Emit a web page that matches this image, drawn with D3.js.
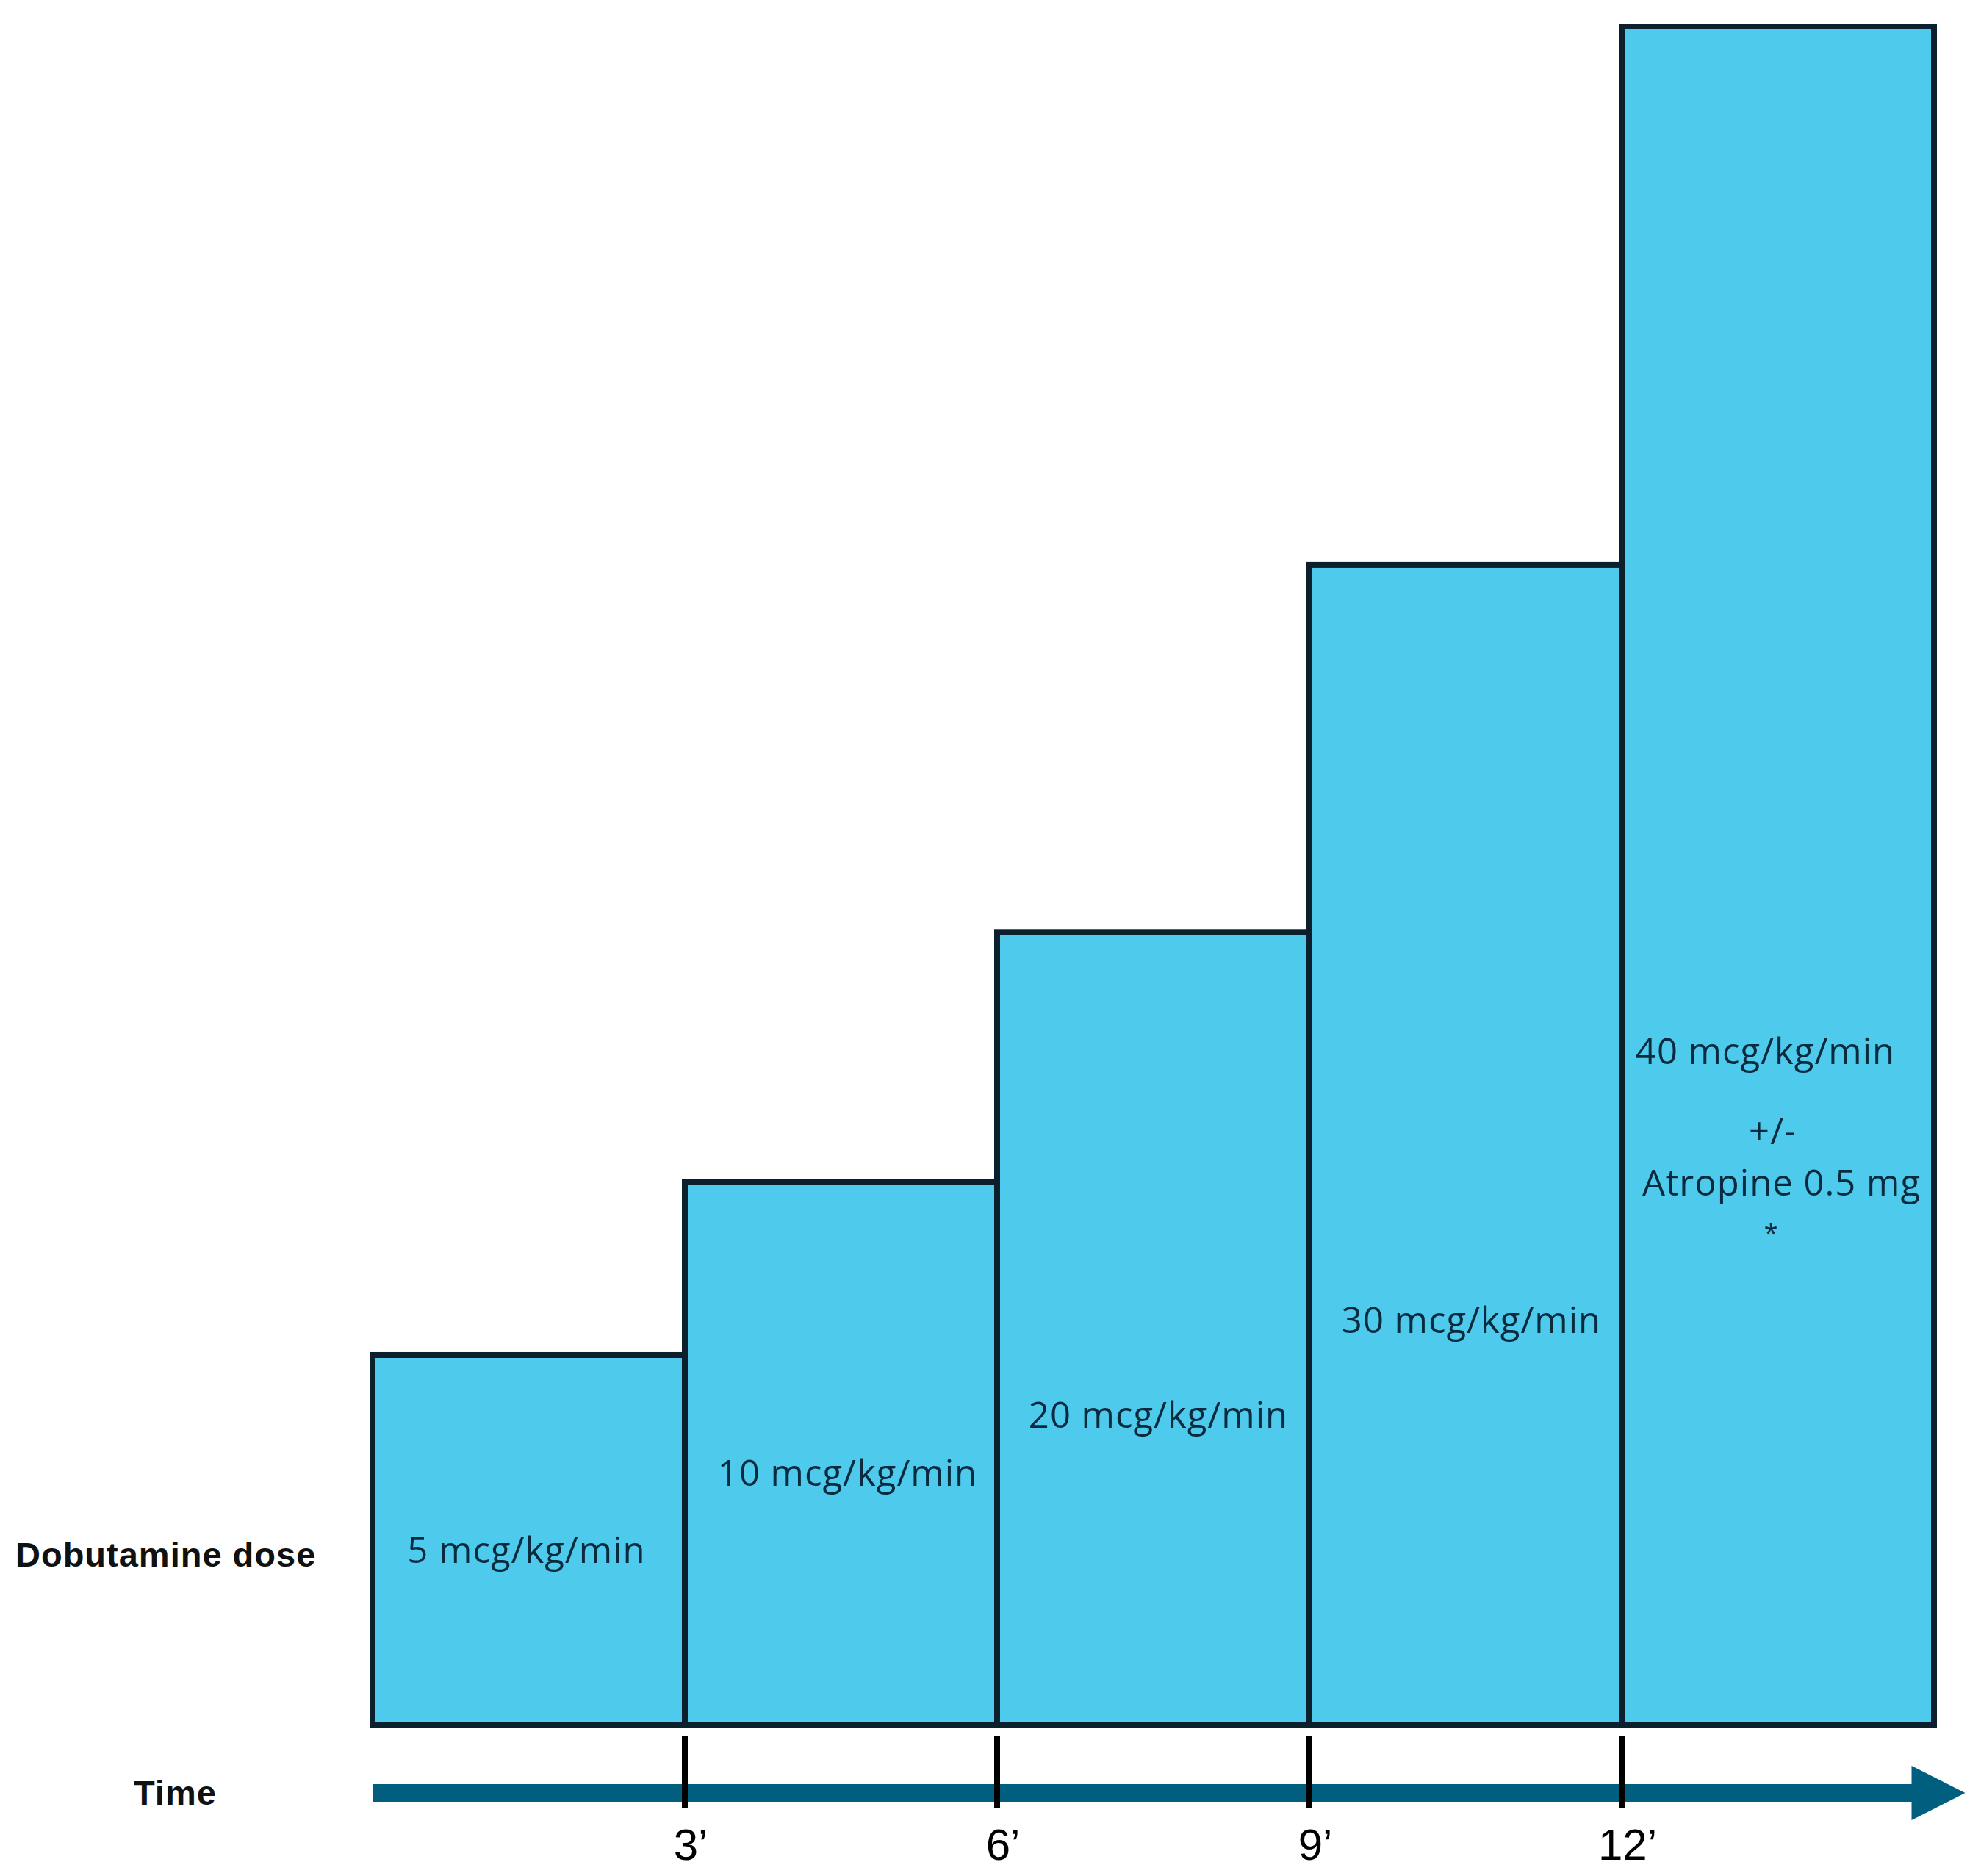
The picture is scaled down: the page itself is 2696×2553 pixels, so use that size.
<!DOCTYPE html>
<html>
<head>
<meta charset="utf-8">
<script src="https://cdn.jsdelivr.net/npm/d3@7"></script>
<style>
  body { margin: 0; background: #fff; }
  svg { display: block; }
</style>
</head>
<body>
<div id="chart"></div>
<script>
// dose steps (arbitrary step height)
const stepStart = [0, 3, 6, 9, 12];
const stepLength = 3;
const stepHeight = [21.8, 32.0, 46.7, 68.3, 100];
const doses = [5, 10, 20, 30, 40];
const doseUnit = 'mcg/kg/min';
const lastStepNote = ['+/-', 'Atropine 0.5 mg', '*'];

// time axis
const tickTimes = [3, 6, 9, 12];
const tickLabels = ['3’', '6’', '9’', '12’'];
const axisEnd = 15.3;

const rowLabels = ['Dobutamine dose', 'Time'];

const W = 2696;
const H = 2553;

const svg = d3.select('#chart').append('svg')
  .attr('width', W)
  .attr('height', H);

svg.append('rect')
  .attr('width', W)
  .attr('height', H)
  .attr('fill', '#fff');

const x = d3.scaleLinear()
  .domain([0, 15])
  .range([507, 2632]);

const y = d3.scaleLinear()
  .domain([0, 100])
  .range([2348, 36]);

const steps = stepStart.map((t, i) => ({
  t,
  h: stepHeight[i],
  dose: doses[i],
}));

// bars
svg.selectAll('.step')
  .data(steps)
  .enter()
  .append('rect')
  .attr('class', 'step')
  .attr('x', d => x(d.t))
  .attr('y', d => y(d.h))
  .attr('width', d => x(d.t + stepLength) - x(d.t))
  .attr('height', d => y(0) - y(d.h))
  .attr('fill', '#4ECBEC')
  .attr('stroke', '#0B1F2C')
  .attr('stroke-width', 8);

// dose labels, placed by hand like in the figure
const labelPos = [
  { dx: -3, y: 2127 },
  { dx: 9, y: 2022 },
  { dx: 7, y: 1943 },
  { dx: 8, y: 1814 },
  { dx: -17, y: 1448 },
];

svg.selectAll('.doselabel')
  .data(steps)
  .enter()
  .append('text')
  .attr('class', 'doselabel')
  .attr('x', (d, i) => x(d.t + stepLength / 2) + labelPos[i].dx)
  .attr('y', (d, i) => labelPos[i].y)
  .attr('text-anchor', 'middle')
  .attr('font-family', '"Open Sans", sans-serif')
  .attr('font-size', 49)
  .attr('letter-spacing', 1)
  .attr('fill', '#0A2A3E')
  .text(d => `${d.dose} ${doseUnit}`);

const notePos = [
  { dx: -7, y: 1557, size: 49 },
  { dx: 5, y: 1627, size: 49 },
  { dx: -9, y: 1690, size: 34 },
];
const last = steps[steps.length - 1];

svg.selectAll('.note')
  .data(lastStepNote)
  .enter()
  .append('text')
  .attr('class', 'note')
  .attr('x', (d, i) => x(last.t + stepLength / 2) + notePos[i].dx)
  .attr('y', (d, i) => notePos[i].y)
  .attr('text-anchor', 'middle')
  .attr('font-family', '"Open Sans", sans-serif')
  .attr('font-size', (d, i) => notePos[i].size)
  .attr('letter-spacing', 1)
  .attr('fill', '#0A2A3E')
  .text(d => d);

// time arrow
const axisY = 2440;
const headLen = 73;
const headHalf = 37;

svg.append('line')
  .attr('x1', x(0))
  .attr('x2', x(axisEnd) - headLen + 2)
  .attr('y1', axisY)
  .attr('y2', axisY)
  .attr('stroke', '#005F7F')
  .attr('stroke-width', 24);

svg.append('path')
  .attr('d', `M${x(axisEnd) - headLen},${axisY - headHalf} L${x(axisEnd)},${axisY} L${x(axisEnd) - headLen},${axisY + headHalf} Z`)
  .attr('fill', '#005F7F');

svg.selectAll('.tick')
  .data(tickTimes)
  .enter()
  .append('line')
  .attr('class', 'tick')
  .attr('x1', d => x(d))
  .attr('x2', d => x(d))
  .attr('y1', 2362)
  .attr('y2', 2460)
  .attr('stroke', '#000')
  .attr('stroke-width', 8);

svg.selectAll('.ticklabel')
  .data(tickTimes)
  .enter()
  .append('text')
  .attr('class', 'ticklabel')
  .attr('x', d => x(d) + 8)
  .attr('y', 2531)
  .attr('text-anchor', 'middle')
  .attr('font-family', '"Liberation Sans", Arial, sans-serif')
  .attr('font-size', 60)
  .attr('fill', '#000')
  .text((d, i) => tickLabels[i]);

// row labels on the left
svg.append('text')
  .attr('x', 21)
  .attr('y', 2132)
  .attr('font-family', '"Liberation Sans", Arial, sans-serif')
  .attr('font-weight', 'bold')
  .attr('font-size', 47)
  .attr('letter-spacing', 1)
  .attr('fill', '#111')
  .text(rowLabels[0]);

svg.append('text')
  .attr('x', 182)
  .attr('y', 2456)
  .attr('font-family', '"Liberation Sans", Arial, sans-serif')
  .attr('font-weight', 'bold')
  .attr('font-size', 47)
  .attr('letter-spacing', 1)
  .attr('fill', '#111')
  .text(rowLabels[1]);
</script>
</body>
</html>
